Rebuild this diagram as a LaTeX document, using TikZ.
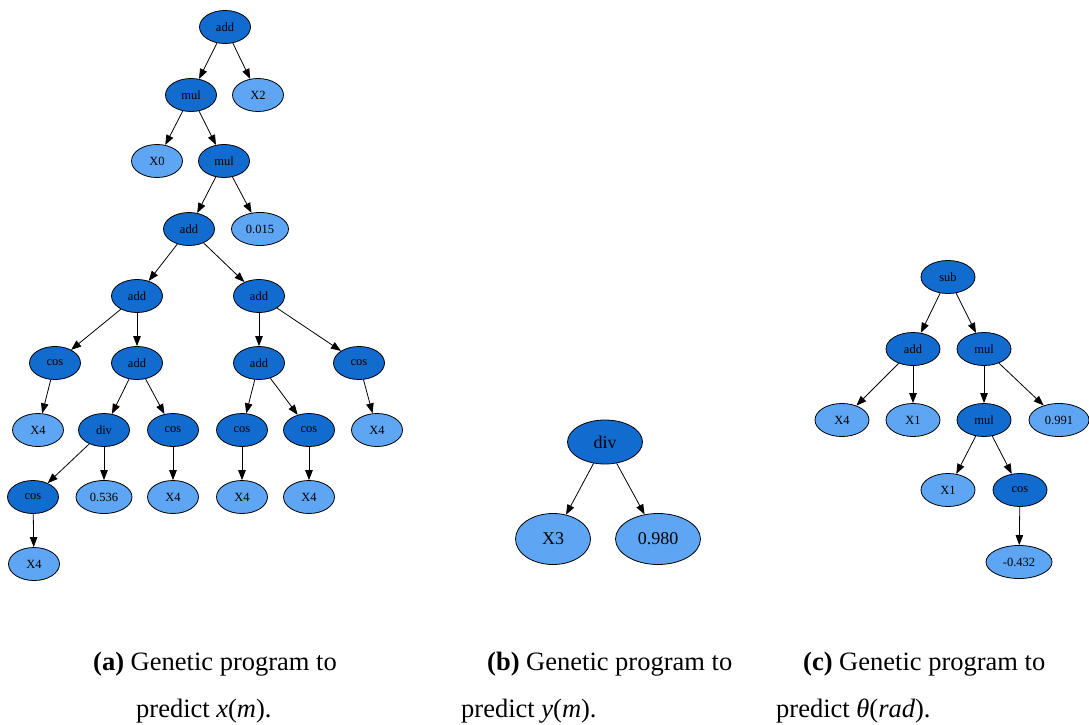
\documentclass[tikz,border=0pt]{standalone}
\usepackage{fontspec}
\setmainfont{Liberation Serif}
\usepackage{xcolor}
\usepackage{tikz}
\usetikzlibrary{arrows.meta,shapes.geometric}

\definecolor{fndark}{RGB}{18,108,208}
\definecolor{termlight}{RGB}{94,166,244}

\begin{document}
\begin{tikzpicture}[x=1pt, y=-1pt,
  fn/.style={draw, ellipse, line width=0.8pt, fill=fndark, inner sep=0pt, minimum width=51pt, minimum height=33pt, font=\rmfamily\fontsize{12.5}{14}\selectfont},
  term/.style={fn, fill=termlight},
  big/.style={minimum width=75pt, minimum height=48pt, font=\rmfamily\fontsize{18}{21}\selectfont},
  arr/.style={-{Triangle[length=10pt, width=7.5pt]}, line width=0.8pt},
  captxt/.style={anchor=base west, inner sep=0pt, font=\rmfamily\fontsize{26.5}{30}\selectfont}]
\useasboundingbox (0,0) rectangle (1089,725);
% (a) program for x(m)
\node[fn] (a1) at (225,27) {add};
\node[fn] (a2) at (191,95) {mul};
\node[term] (a3) at (258,95) {X2};
\node[term] (a4) at (157,161) {X0};
\node[fn] (a5) at (224,161) {mul};
\node[fn] (a6) at (189,229) {add};
\node[term, minimum width=57pt] (a7) at (260,229) {0.015};
\node[fn] (a8) at (137,296) {add};
\node[fn] (a9) at (259,296) {add};
\node[fn] (a10) at (55,363) {cos};
\node[fn] (a11) at (137,363) {add};
\node[fn] (a12) at (259,363) {add};
\node[fn] (a13) at (359,363) {cos};
\node[term] (a14) at (38,430) {X4};
\node[fn] (a15) at (104,430) {div};
\node[fn] (a16) at (173,430) {cos};
\node[fn] (a17) at (242,430) {cos};
\node[fn] (a18) at (309,430) {cos};
\node[term] (a19) at (377,430) {X4};
\node[fn] (a20) at (33,497) {cos};
\node[term, minimum width=56pt] (a21) at (104,497) {0.536};
\node[term] (a22) at (173,497) {X4};
\node[term] (a23) at (242,497) {X4};
\node[term] (a24) at (309,497) {X4};
\node[term] (a25) at (34,564) {X4};
\draw[arr] (a1) -- (a2); \draw[arr] (a1) -- (a3);
\draw[arr] (a2) -- (a4); \draw[arr] (a2) -- (a5);
\draw[arr] (a5) -- (a6); \draw[arr] (a5) -- (a7);
\draw[arr] (a6) -- (a8); \draw[arr] (a6) -- (a9);
\draw[arr] (a8) -- (a10); \draw[arr] (a8) -- (a11);
\draw[arr] (a9) -- (a12); \draw[arr] (a9) -- (a13);
\draw[arr] (a10) -- (a14);
\draw[arr] (a11) -- (a15); \draw[arr] (a11) -- (a16);
\draw[arr] (a12) -- (a17); \draw[arr] (a12) -- (a18);
\draw[arr] (a13) -- (a19);
\draw[arr] (a15) -- (a20); \draw[arr] (a15) -- (a21);
\draw[arr] (a16) -- (a22); \draw[arr] (a17) -- (a23); \draw[arr] (a18) -- (a24);
\draw[arr] (a20) -- (a25);
% (b) program for y(m)
\node[fn, big, minimum height=44pt] (b1) at (605,442) {div};
\node[term, big, minimum height=51pt] (b2) at (553,539) {X3};
\node[term, big, minimum height=51pt, minimum width=85pt] (b3) at (658,539) {0.980};
\draw[arr] (b1) -- (b2); \draw[arr] (b1) -- (b3);
% (c) program for theta(rad)
\node[fn, minimum width=54pt] (c1) at (948,277) {sub};
\node[fn, minimum width=54pt] (c2) at (913,349) {add};
\node[fn, minimum width=54pt] (c3) at (984,349) {mul};
\node[term, minimum width=54pt] (c4) at (842,420) {X4};
\node[term, minimum width=54pt] (c5) at (913,420) {X1};
\node[fn, minimum width=54pt] (c6) at (984,420) {mul};
\node[term, minimum width=60pt] (c7) at (1059,420) {0.991};
\node[term, minimum width=54pt] (c8) at (948,490) {X1};
\node[fn, minimum width=54pt] (c9) at (1020,490) {cos};
\node[term, minimum width=66pt] (c10) at (1019,562) {-0.432};
\draw[arr] (c1) -- (c2); \draw[arr] (c1) -- (c3);
\draw[arr] (c2) -- (c4); \draw[arr] (c2) -- (c5);
\draw[arr] (c3) -- (c6); \draw[arr] (c3) -- (c7);
\draw[arr] (c6) -- (c8); \draw[arr] (c6) -- (c9);
\draw[arr] (c9) -- (c10);
% captions
\node[captxt] (capa1) at (93,670) {\textbf{(a)} Genetic program to};
\node[captxt] (capa2) at (136,717) {predict \textit{x}(\textit{m}).};
\node[captxt] (capb1) at (487,670) {\textbf{(b)} Genetic program to};
\node[captxt] (capb2) at (461,717) {predict \textit{y}(\textit{m}).};
\node[captxt] (capc1) at (803,670) {\textbf{(c)} Genetic program to};
\node[captxt] (capc2) at (776,717) {predict \textit{θ}(\textit{rad}).};
\end{tikzpicture}
\end{document}
